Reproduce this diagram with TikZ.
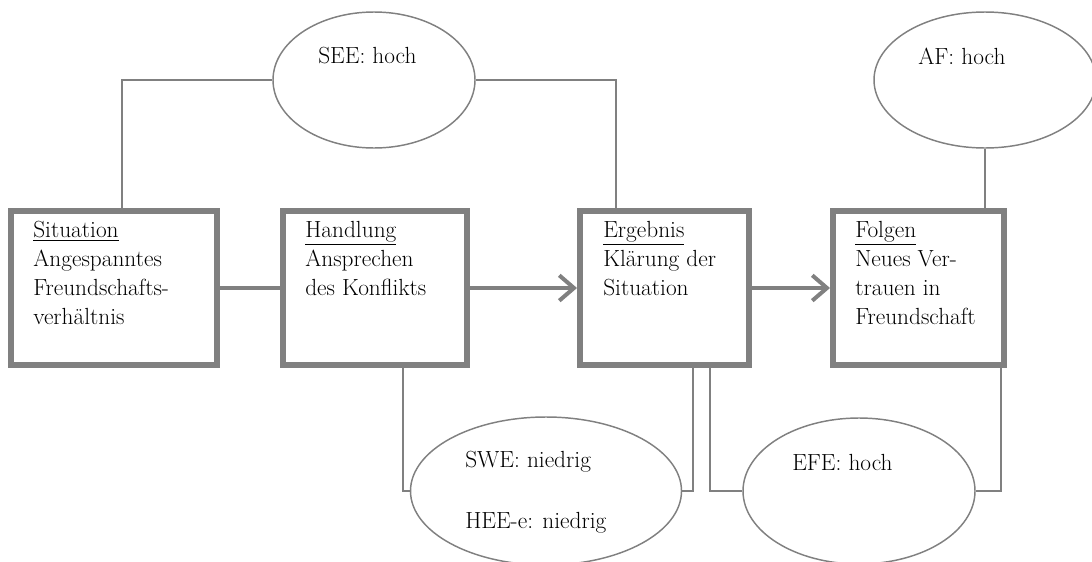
\documentclass[tikz,border=0pt]{standalone}
\usetikzlibrary{arrows.meta,shapes.geometric}
\definecolor{linegray}{HTML}{808080}
\begin{document}
\begin{tikzpicture}[x=0.75pt,y=-0.75pt,
  stepbox/.style={draw=linegray, line width=4.5pt, rectangle, inner sep=0pt,
    minimum height=115.5pt},
  bubble/.style={draw=linegray, line width=1.1pt, ellipse, inner sep=0pt},
  boxtext/.style={anchor=north west, inner sep=0pt, align=left,
    font=\fontsize{17.5}{21.75}\selectfont},
  bubbletext/.style={anchor=west, inner sep=0pt, align=left,
    font=\fontsize{17.5}{21.75}\selectfont},
  flow/.style={draw=linegray, line width=3pt},
  flowarrow/.style={flow, -{Straight Barb[length=11pt,width=19pt]}},
  link/.style={draw=linegray, line width=1.1pt}]
\useasboundingbox (0,0) rectangle (1092,561);

% the four stages
\node[stepbox, minimum width=154.5pt] (sit) at (114,288) {};
\node[stepbox, minimum width=138pt] (hand) at (375,288) {};
\node[stepbox, minimum width=126.75pt] (erg) at (664.5,288) {};
\node[stepbox, minimum width=128.25pt] (fol) at (918.5,288) {};

\node[boxtext] (sitT) at (33,221) {\underline{Situation}\\Angespanntes\\Freundschafts-\\verhältnis};
\node[boxtext] (handT) at (305,221) {\underline{Handlung}\\Ansprechen\\des Konflikts};
\node[boxtext] (ergT) at (603,221) {\underline{Ergebnis}\\Klärung der\\Situation};
\node[boxtext] (folT) at (855,221) {\underline{Folgen}\\Neues Ver-\\trauen in\\Freundschaft};

% the evaluations
\node[bubble, minimum width=151.5pt, minimum height=102pt] (see) at (374,80) {};
\node[bubble, minimum width=166.5pt, minimum height=102pt] (af) at (985,80) {};
\node[bubble, minimum width=203.25pt, minimum height=111pt] (swe) at (546,491) {};
\node[bubble, minimum width=174pt, minimum height=109.5pt] (efe) at (859,491) {};

\node[bubbletext] (seeT) at (318,56) {SEE: hoch};
\node[bubbletext] (afT) at (918,56) {AF: hoch};
\node[bubbletext] (sweT) at (465,462) {SWE: niedrig};
\node[bubbletext] (heeT) at (465,523) {HEE-e: niedrig};
\node[bubbletext] (efeT) at (792,462) {EFE: hoch};

% flow between the stages
\draw[flow] (sit.east) -- (hand.west);
\draw[flowarrow] (hand.east) -- (erg.west);
\draw[flowarrow] (erg.east) -- (fol.west);

% links to the evaluations
\draw[link] (see.west) -| ([xshift=6pt]sit.north);
\draw[link] (see.east) -| ([xshift=-36.4pt]erg.north);
\draw[link] (af.south) -- (af.south |- fol.north);
\draw[link] ([xshift=21pt]hand.south) |- (swe.west);
\draw[link] (swe.east) -| ([xshift=21.4pt]erg.south);
\draw[link] ([xshift=34.1pt]erg.south) |- (efe.west);
\draw[link] (efe.east) -| ([xshift=61.9pt]fol.south);
\end{tikzpicture}
\end{document}
